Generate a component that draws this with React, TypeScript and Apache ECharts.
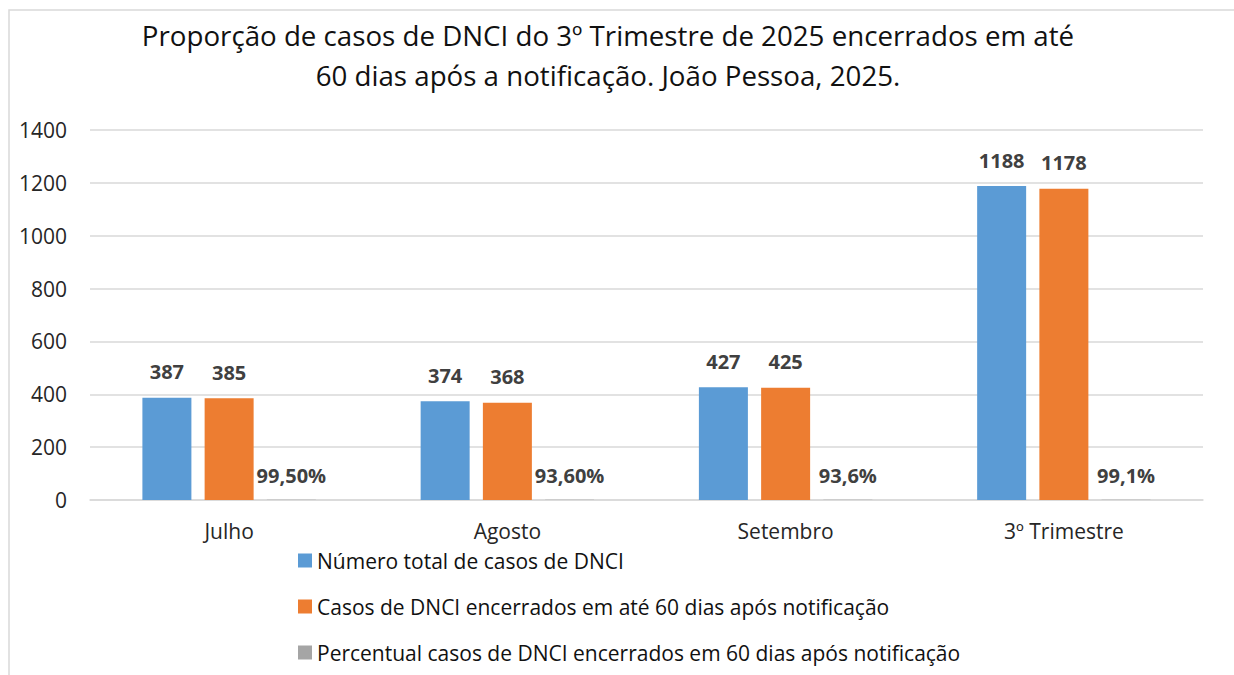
import React, { useEffect, useRef } from "react";
import * as echarts from "echarts";

const categories = ["Julho", "Agosto", "Setembro", "3º Trimestre"];
const totalCases = [387, 374, 427, 1188];
const closedCases = [385, 368, 425, 1178];
const percentValues = [0.995, 0.936, 0.936, 0.991];
const percentLabels = ["99,50%", "93,60%", "93,6%", "99,1%"];
const seriesNames = [
  "Número total de casos de DNCI",
  "Casos de DNCI encerrados em até 60 dias após notificação",
  "Percentual casos de DNCI encerrados em 60 dias após notificação",
];
const yTicks = { min: 0, max: 1400, interval: 200 };

const FONT = "Open Sans";

export default function App() {
  const ref = useRef<HTMLDivElement>(null);
  useEffect(() => {
    document.body.style.margin = "0";
    const chart = echarts.init(ref.current!, null, { renderer: "svg" });
    const labelStyle = {
      show: true,
      position: "top" as const,
      distance: 16,
      color: "#404040",
      fontFamily: FONT,
      fontWeight: "bold" as const,
      fontSize: 20,
    };
    chart.setOption({
      animation: false,
      backgroundColor: "#fff",
      title: {
        text: "Proporção de casos de DNCI do 3º Trimestre de 2025 encerrados em até\n60 dias após a notificação. João Pessoa, 2025.",
        left: 608,
        top: 15,
        padding: 0,
        textAlign: "center",
        textStyle: {
          fontFamily: FONT,
          fontSize: 27.7,
          fontWeight: "normal",
          color: "#111",
          lineHeight: 40,
        },
      },
      graphic: [
        {
          type: "rect",
          shape: { x: 9, y: 10, width: 1240, height: 700 },
          style: { fill: "none", stroke: "#d9d9d9", lineWidth: 1.5 },
          silent: true,
        },
      ],
      legend: {
        orient: "vertical",
        left: 298,
        top: 550,
        padding: 0,
        itemWidth: 14,
        itemHeight: 14,
        itemGap: 25,
        icon: "rect",
        textStyle: { fontFamily: FONT, fontSize: 21, color: "#111", lineHeight: 20 },
        data: seriesNames,
      },
      grid: { left: 90, right: 31, top: 130, bottom: 175, containLabel: false },
      xAxis: {
        type: "category",
        data: categories,
        axisLine: { lineStyle: { color: "#d9d9d9", width: 1.5 } },
        axisTick: { show: false },
        axisLabel: { margin: 20, fontFamily: FONT, fontSize: 21, color: "#262626" },
      },
      yAxis: {
        type: "value",
        min: yTicks.min,
        max: yTicks.max,
        interval: yTicks.interval,
        axisLine: { show: false },
        axisTick: { show: false },
        splitLine: { lineStyle: { color: "#d9d9d9", width: 1.5 } },
        axisLabel: {
          margin: 23,
          fontFamily: FONT,
          fontSize: 21,
          color: "#262626",
          formatter: (v: number) => String(v),
        },
      },
      series: [
        {
          name: seriesNames[0],
          type: "bar",
          data: totalCases,
          barWidth: 49,
          barGap: "27%",
          itemStyle: { color: "#5B9BD5" },
          label: labelStyle,
        },
        {
          name: seriesNames[1],
          type: "bar",
          data: closedCases,
          barWidth: 49,
          barGap: "27%",
          itemStyle: { color: "#ED7D31" },
          label: labelStyle,
        },
        {
          name: seriesNames[2],
          type: "bar",
          data: percentValues,
          barWidth: 49,
          barGap: "27%",
          itemStyle: { color: "#A5A5A5" },
          label: {
            ...labelStyle,
            distance: 14,
            formatter: (p: any) => percentLabels[p.dataIndex],
          },
        },
      ],
    });
    return () => chart.dispose();
  }, []);
  return <div ref={ref} style={{ width: 1234, height: 675 }} />;
}
